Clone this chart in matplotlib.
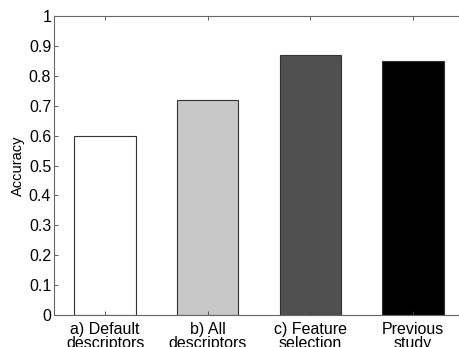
import matplotlib
matplotlib.use("Agg")
import matplotlib.pyplot as plt

plt.rcParams['font.family'] = ['Liberation Sans', 'DejaVu Sans']

categories = ["a) Default\ndescriptors", "b) All\ndescriptors",
              "c) Feature\nselection", "Previous\nstudy"]
accuracy = [0.60, 0.72, 0.87, 0.85]
colors = ["#ffffff", "#c8c8c8", "#505050", "#000000"]
yticks = [0, 0.1, 0.2, 0.3, 0.4, 0.5, 0.6, 0.7, 0.8, 0.9, 1]

fig = plt.figure(figsize=(4.6, 3.47), dpi=100)
ax = fig.add_axes([54/460, 32/347, (464-54)/460, (315-16)/347])

pos = range(1, len(accuracy) + 1)
ax.bar(pos, accuracy, width=0.6, color=colors, edgecolor="#333333", linewidth=0.8)

ax.set_xlim(0.5, 4.5)
ax.set_ylim(0, 1)
ax.set_xticks(list(pos))
ax.set_xticklabels(categories, linespacing=0.95, fontsize=11.5)
ax.tick_params(axis="x", pad=5)
ax.set_yticks(yticks)
ax.set_yticklabels([f"{t:g}" for t in yticks])
ax.set_ylabel("Accuracy", fontsize=10.5, labelpad=3)

ax.tick_params(direction="in", length=3, width=0.6, labelsize=11.5,
               top=True, right=True, color="#444444")
ax.tick_params(axis="y", pad=2)
for s in ax.spines.values():
    s.set_color("#666666")
    s.set_linewidth(0.8)

fig.savefig("out.png", dpi=100)
